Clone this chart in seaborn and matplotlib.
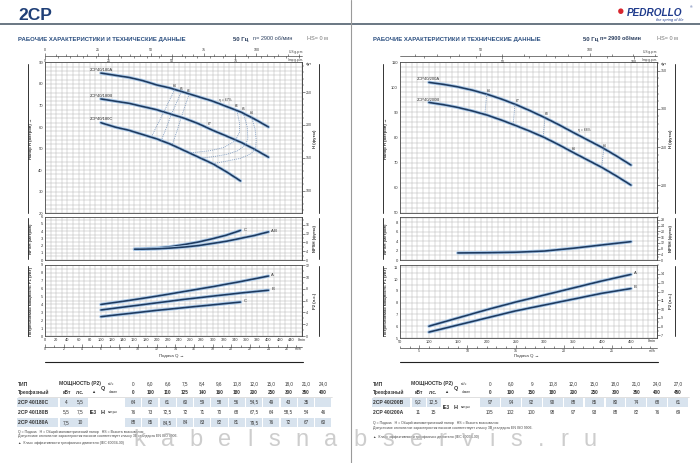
import matplotlib
matplotlib.use('Agg')
import matplotlib.pyplot as plt
import matplotlib.patheffects as pe
from matplotlib.patches import Rectangle
from matplotlib.ticker import MultipleLocator, FixedLocator
import seaborn as sns

sns.set_theme(style='white')
plt.rcParams['font.family'] = ['Liberation Sans', 'DejaVu Sans']

W, H = 700, 463
NAVY = '#1e3a5f'
GLOW = '#a9c8e8'
GRID = '#b4b4b4'
TXT = '#333333'
SHADE = '#d8e3ee'

# ---------------- 2CP 40/180 (left page) ----------------
q180 = [100, 125, 150, 175, 200, 225, 250, 275, 300, 325, 350, 375, 400]
h180_a = [85, 84, 83, 81.5, 79.5, 78, 76, 74, 72, 69.5, 67, 63.7, 60]
h180_b = [73, 72, 71, 69.5, 68, 66, 64, 61.5, 58.5, 55.8, 53, 49.7, 46]
q180_c = [100, 125, 150, 175, 200, 225, 250, 275, 300, 325, 350]
h180_c = [62, 60, 58.5, 56.5, 54.5, 52, 49, 46, 43, 39.2, 35]

qn180_c = [160, 175, 200, 225, 250, 275, 300, 325, 350]
npsh180_c = [1.5, 1.55, 1.65, 1.85, 2.15, 2.5, 2.95, 3.45, 4.1]
qn180_ab = [160, 175, 200, 225, 250, 275, 300, 325, 350, 375, 400]
npsh180_ab = [1.5, 1.5, 1.55, 1.65, 1.8, 2.0, 2.3, 2.6, 3.0, 3.4, 3.9]

qp180 = [100, 150, 200, 250, 300, 350, 400]
p180_a = [4.0, 4.5, 5.05, 5.65, 6.25, 6.9, 7.6]
p180_b = [3.3, 3.75, 4.2, 4.65, 5.05, 5.45, 5.8]
qp180_c = [100, 150, 200, 250, 300, 350]
p180_c = [2.45, 2.85, 3.25, 3.6, 3.95, 4.3]

# efficiency iso-lines (dotted)
eta64_l_q = [232, 222, 212, 201, 191]
eta64_l_h = [77.3, 72, 66.6, 61, 55.7]
eta65_l_q = [244, 235, 226, 217, 208]
eta65_l_h = [76.3, 71, 65.8, 59.5, 53.7]
eta66_l_q = [258, 251, 244, 236, 228]
eta66_l_h = [75.2, 70, 64.5, 58, 52]
eta64_r_q = [370, 376, 378, 377, 368, 350, 325, 300]
eta64_r_h = [64.4, 59, 54, 50, 47.5, 45.5, 44.2, 43]
eta65_r_q = [356, 362, 363, 360, 345, 325, 300, 279]
eta65_r_h = [65.6, 60, 55, 52, 49, 47.3, 46.2, 45.6]
eta66_r_q = [343, 348, 348, 340, 320, 295, 259]
eta66_r_h = [68.3, 62, 57.5, 53.5, 50.5, 49, 48]

# ---------------- 2CP 40/200 (right page) ----------------
q200 = [100, 125, 150, 175, 200, 225, 250, 275, 300, 325, 350, 375, 400, 425, 450]
h200_a = [102, 101.2, 100.2, 98.9, 97.3, 95.4, 93.2, 90.7, 88, 85.1, 82, 79, 76, 72.6, 69]
h200_b = [94, 93.1, 92, 90.6, 89, 87, 84.8, 82.5, 80, 77.1, 74, 71, 68, 64.6, 61]

qn200 = [150, 200, 250, 300, 325, 350, 375, 400, 425, 450]
npsh200 = [1.5, 1.55, 1.65, 1.9, 2.2, 2.5, 2.85, 3.2, 3.55, 3.9]

qp200 = [100, 150, 200, 250, 300, 350, 400, 450]
p200_a = [6.0, 6.7, 7.4, 8.05, 8.65, 9.25, 9.85, 10.4]
p200_b = [5.5, 6.1, 6.7, 7.3, 7.8, 8.3, 8.8, 9.2]

seg200_q = [[200, 197], [249, 246], [301, 298], [403, 399]]
seg200_h = [[97.3, 89.2], [93.3, 85.1], [87.9, 80.2], [75.6, 68.1]]

# ---------------- tables ----------------
t180_m3h = ['0', '6,0', '6,6', '7,5', '8,4', '9,6', '10,8', '12,0', '15,0', '18,0', '21,0', '24,0']
t180_lmin = ['0', '100', '110', '125', '140', '160', '180', '200', '250', '300', '350', '400']
t180_models = ['2CP 40/180C', '2CP 40/180B', '2CP 40/180A']
t180_kw = ['4', '5,5', '7,5']
t180_hp = ['5,5', '7,5', '10']
t180_h = [['64', '62', '61', '60', '59', '58', '56', '54,5', '49', '43', '35', ''],
          ['76', '73', '72,5', '72', '71', '70', '68', '67,5', '64', '58,5', '54', '46'],
          ['88', '85', '84,5', '84', '83', '82', '81', '79,5', '76', '72', '67', '60']]

t200_m3h = ['0', '6,0', '9', '10,8', '12,0', '15,0', '18,0', '21,0', '24,0', '27,0']
t200_lmin = ['0', '100', '150', '180', '200', '250', '300', '350', '400', '450']
t200_models = ['2CP 40/200B', '2CP 40/200A']
t200_kw = ['9,2', '11']
t200_hp = ['12,5', '15']
t200_h = [['97', '94', '92', '90', '88', '85', '80', '74', '68', '61'],
          ['105', '102', '100', '98', '97', '93', '88', '82', '76', '69']]

notes = ['Q = Подача   H = Общий манометрический напор   HS = Высота всасывания',
         'Допустимое отклонение характеристик насосов соответствует классу 3B стандарта EN ISO 9906.',
         '▲  Класс эффективности трехфазного двигателя (IEC 60034-30)']

fig = plt.figure(figsize=(W / 100, H / 100), dpi=100)
ov = fig.add_axes([0, 0, 1, 1])
ov.set_xlim(0, W)
ov.set_ylim(H, 0)
ov.axis('off')


def rect(x0, y0, x1, y1):
    return [x0 / W, 1 - y1 / H, (x1 - x0) / W, (y1 - y0) / H]


def panel(x0, x1, y0, y1, xlim, ylim, xmajor, yticks, yminor):
    ax = fig.add_axes(rect(x0, y0, x1, y1))
    ax.set_xlim(*xlim)
    ax.set_ylim(*ylim)
    ax.xaxis.set_major_locator(MultipleLocator(xmajor))
    ax.xaxis.set_minor_locator(MultipleLocator(10))
    ax.set_yticks(yticks)
    ax.yaxis.set_minor_locator(MultipleLocator(yminor))
    ax.grid(True, which='both', color=GRID, lw=0.35)
    ax.set_axisbelow(True)
    for s in ax.spines.values():
        s.set_color('#4a4a4a')
        s.set_linewidth(0.6)
    ax.tick_params(which='both', length=0, pad=1.5, labelsize=3, colors=TXT, labelbottom=False)
    return ax


def right_scale(ax, k, ticks, minor):
    sec = ax.secondary_yaxis('right', functions=(lambda v, k=k: v * k, lambda v, k=k: v / k))
    sec.set_yticks(ticks)
    sec.yaxis.set_minor_locator(MultipleLocator(minor))
    sec.tick_params(which='major', length=2, width=0.4, pad=0.8, labelsize=2.6, colors=TXT)
    sec.tick_params(which='minor', length=1.2, width=0.3)
    sec.spines['right'].set_linewidth(0.6)
    sec.spines['right'].set_color('#4a4a4a')
    return sec


def curve(ax, x, y):
    sns.lineplot(x=x, y=y, ax=ax, color=NAVY, lw=1.15, estimator=None,
                 path_effects=[pe.withStroke(linewidth=2.4, foreground=GLOW)])
    ax.set_xlabel('')
    ax.set_ylabel('')


def dotted(ax, x, y):
    sns.lineplot(x=x, y=y, ax=ax, color='#6f8fb8', lw=0.6, ls=(0, (1, 1.3)),
                 sort=False, estimator=None)
    ax.set_xlabel('')
    ax.set_ylabel('')


def ruler(x0, x1, y, lim, ticks, minor, side, labels=True):
    r = fig.add_axes(rect(x0, y, x1, y + 0.01))
    r.set_xlim(*lim)
    r.set_yticks([])
    r.patch.set_alpha(0)
    for s in r.spines.values():
        s.set_visible(False)
    r.xaxis.set_major_locator(FixedLocator(ticks))
    r.xaxis.set_minor_locator(MultipleLocator(minor))
    top = side == 'top'
    r.tick_params(axis='x', which='both', top=top, bottom=not top, labeltop=top and labels,
                  labelbottom=(not top) and labels, direction='out' if side != 'up' else 'in',
                  colors=TXT, labelsize=2.6, pad=0.6, width=0.4)
    r.tick_params(which='major', length=2)
    r.tick_params(which='minor', length=1.2)
    return r


def small(x, y, s, size=2.4, **kw):
    ov.text(x, y, s, fontsize=size, color=TXT, **kw)


# ---------------- page header ----------------
ov.text(18, 15, '2CP', fontsize=12.5, fontweight='bold', color='#1f3f77', va='center')
ov.plot([0, W], [24, 24], color='#50606e', lw=1.2)
ov.plot([351, 351], [0, H], color='#9a9a9a', lw=0.8)
for x0, xg, xn, xh, nb in [(18, 233, 253, 307, 'normal'), (373, 583, 600, 657, 'bold')]:
    ov.text(x0, 39, 'РАБОЧИЕ ХАРАКТЕРИСТИКИ И ТЕХНИЧЕСКИЕ ДАННЫЕ', fontsize=4.3,
            fontweight='bold', color='#2b4f80', va='center')
    ov.text(xg, 39, '50 Гц', fontsize=4.3, fontweight='bold', color='#2b3f5f', va='center')
    ov.text(xn, 39, 'n= 2900 об/мин', fontsize=4, fontweight=nb, color='#2b3f5f', va='center')
    ov.text(xh, 39, 'HS= 0 м', fontsize=4, color='#777777', va='center')
ov.text(621, 12.5, '●', fontsize=9, color='#d8262e', ha='center', va='center')
ov.text(627, 12.5, 'PEDROLLO', fontsize=7.2, fontweight='bold', fontstyle='italic',
        color='#1f3b8c', va='center')
ov.text(689.5, 7.5, '®', fontsize=2.5, color='#1f3b8c', va='center')
ov.text(684, 20.5, 'the spring of life', fontsize=2.8, fontstyle='italic', color='#1f3b8c',
        ha='right', va='center')

# ---------------- left charts ----------------
axh = panel(45, 302, 62.3, 213.3, (0, 460), (20, 90), 20, range(20, 91, 10), 2)
curve(axh, q180, h180_a)
curve(axh, q180, h180_b)
curve(axh, q180_c, h180_c)
for qq, hh in [(eta64_l_q, eta64_l_h), (eta65_l_q, eta65_l_h), (eta66_l_q, eta66_l_h),
               (eta64_r_q, eta64_r_h), (eta65_r_q, eta65_r_h), (eta66_r_q, eta66_r_h)]:
    dotted(axh, qq, hh)
for lbl, q, h in [('64', 232, 78.9), ('65', 244, 77.7), ('66', 258, 76.6),
                  ('66', 343, 69.6), ('65', 356, 68.3), ('64', 370, 66.6), ('67', 295, 61.2)]:
    axh.text(q, h, lbl, fontsize=2.4, color=TXT, ha='center', va='center')
axh.text(312, 72.6, 'η = 67%', fontsize=2.4, color=TXT, ha='left', va='center')
axh.text(80, 86.4, '2CP40/180A', fontsize=3, color=TXT, va='center')
axh.text(80, 74.6, '2CP40/180B', fontsize=3, color=TXT, va='center')
axh.text(80, 63.7, '2CP40/180C', fontsize=3, color=TXT, va='center')
right_scale(axh, 3.2808, [100, 150, 200, 250], 10)
small(306, 64.5, 'фут')

axn = panel(45, 302, 216.7, 260, (0, 460), (0, 6), 20, range(0, 7), 0.5)
curve(axn, qn180_c, npsh180_c)
curve(axn, qn180_ab, npsh180_ab)
axn.text(355, 4.2, 'C', fontsize=3, color=TXT, va='center')
axn.text(405, 4.05, 'A-B', fontsize=3, color=TXT, va='center')
right_scale(axn, 3.2808, [0, 4, 8, 12, 16], 2)

axp = panel(45, 302, 265, 336, (0, 460), (0, 9), 20, range(0, 10), 0.5)
curve(axp, qp180, p180_a)
curve(axp, qp180, p180_b)
curve(axp, qp180_c, p180_c)
axp.text(405, 7.75, 'A', fontsize=3, color=TXT, va='center')
axp.text(405, 5.9, 'B', fontsize=3, color=TXT, va='center')
axp.text(355, 4.4, 'C', fontsize=3, color=TXT, va='center')
right_scale(axp, 1.341, range(0, 13, 2), 1)
axp.set_xticks(range(0, 461, 20))
axp.set_xticklabels([str(v) for v in range(0, 441, 20)] + ['l/min'])
axp.tick_params(labelbottom=True, labelsize=2.8, pad=1.2)

# rulers (left)
ov.plot([45, 302], [55.5, 55.5], color='#444', lw=0.5)
ruler(45, 302, 55.5, (0, 460 / 3.785), [0, 25, 50, 75, 100], 5, 'top')
ruler(45, 302, 55.5, (0, 460 / 4.546), [0, 25, 50, 75], 5, 'bottom')
small(296, 51.5, 'US g.p.m.', 2.3, ha='center', va='center')
small(296, 59.5, 'Imp g.p.m.', 2.3, ha='center', va='center')
ov.plot([45, 302], [346.5, 346.5], color='#444', lw=0.5)
ruler(45, 302, 346.5, (0, 460 / 16.667), list(range(0, 27, 2)), 1, 'up')
small(298, 349.5, 'm³/h', 2.4, ha='center', va='center')
ov.text(172, 355.5, 'Подача Q →', fontsize=3.2, color=TXT, ha='center', va='center')
ov.plot([45, 303], [361.7, 361.7], color='#222', lw=0.8)

# ---------------- right charts ----------------
bxh = panel(400, 657, 62.3, 212.7, (50, 495), (50, 110), 50, range(50, 111, 10), 2)
curve(bxh, q200, h200_a)
curve(bxh, q200, h200_b)
for qq, hh in zip(seg200_q, seg200_h):
    dotted(bxh, qq, hh)
for lbl, q, h in [('64', 204, 98.6), ('67', 254, 94.7), ('68', 304, 89.4), ('64', 405, 76.8),
                  ('64', 351, 75.4)]:
    bxh.text(q, h, lbl, fontsize=2.4, color=TXT, ha='center', va='center')
bxh.text(359, 83, 'η = 68%', fontsize=2.4, color=TXT, ha='left', va='center')
bxh.text(79, 103.2, '2CP40/200A', fontsize=3, color=TXT, va='center')
bxh.text(79, 95.0, '2CP40/200B', fontsize=3, color=TXT, va='center')
right_scale(bxh, 3.2808, [200, 250, 300, 350], 10)
small(661, 65, 'фут')

bxn = panel(400, 657, 216.7, 260, (50, 495), (0, 9.2), 50, [0, 2, 4, 6, 8], 1)
curve(bxn, qn200, npsh200)
right_scale(bxn, 3.2808, range(0, 29, 4), 2)

bxp = panel(400, 657, 265, 338, (50, 495), (5, 11.2), 50, range(5, 12), 0.5)
curve(bxp, qp200, p200_a)
curve(bxp, qp200, p200_b)
bxp.text(455, 10.5, 'A', fontsize=3, color=TXT, va='center')
bxp.text(455, 9.3, 'B', fontsize=3, color=TXT, va='center')
right_scale(bxp, 1.341, range(7, 15), 0.5)
bxp.set_xticks(range(50, 451, 50))
bxp.tick_params(labelbottom=True, labelsize=2.8, pad=1.2)
small(652, 341.5, 'l/min', 2.8, ha='center', va='center')

ov.plot([400, 657], [56, 56], color='#444', lw=0.5)
ruler(400, 657, 56, (50 / 3.785, 495 / 3.785), [50, 100], 10, 'top')
ruler(400, 657, 56, (50 / 4.546, 495 / 4.546), [50, 100], 10, 'bottom')
small(650, 52.5, 'US g.p.m.', 2.3, ha='center', va='center')
small(650, 59.5, 'Imp g.p.m.', 2.3, ha='center', va='center')
ov.plot([400, 657], [348, 348], color='#444', lw=0.5)
ruler(400, 657, 348, (50 / 16.667, 495 / 16.667), [5, 10, 15, 20, 25], 1, 'up')
small(652, 351, 'm³/h', 2.4, ha='center', va='center')
ov.text(527, 356, 'Подача Q →', fontsize=3.2, color=TXT, ha='center', va='center')
ov.plot([400, 658], [362, 362], color='#222', lw=0.8)

# axis titles and brackets
for xl, xb, xr, xrb in [(31, 28.3, 315, 319.3), (386.5, 383.3, 671, 675)]:
    for (ya, yb), left, right in [((64, 213), 'Напор H (метров) →', 'H (футы)'),
                                  ((218, 259), 'NPSH (метров)', 'NPSH (футы)'),
                                  ((266, 336), 'Потребляемая мощность P1 (кВт)', 'P2 (л.с.)')]:
        ov.plot([xb, xb], [ya, yb], color='#333', lw=0.7)
        ov.plot([xrb, xrb], [ya, yb], color='#333', lw=0.7)
        ov.text(xl, (ya + yb) / 2, left, rotation=90, fontsize=3, fontweight='bold',
                color=TXT, ha='center', va='center')
        ov.text(xr, (ya + yb) / 2, right, rotation=90, fontsize=3, fontweight='bold',
                color=TXT, ha='center', va='center')


# ---------------- tables ----------------
def table(x0, cols, vx, vw, m3h, lmin, models, kw, hp, vals, shaded, note_y):
    xn_end, xkw, xhp, xie, xq = cols
    y_h1, y_h2 = 384, 392.3
    ov.text(x0, y_h1, 'ТИП', fontsize=3.6, fontweight='bold', color=TXT, va='center')
    ov.text(x0, y_h2, 'Трехфазный', fontsize=3.6, fontweight='bold', color=TXT, va='center')
    ov.text((xkw + xie) / 2, y_h1, 'МОЩНОСТЬ (P2)', fontsize=3.6, fontweight='bold',
            color=TXT, ha='center', va='center')
    ov.text(xkw, y_h2, 'кВт', fontsize=3.4, fontweight='bold', color=TXT, ha='center', va='center')
    ov.text(xhp, y_h2, 'л.с.', fontsize=3.4, fontweight='bold', color=TXT, ha='center', va='center')
    ov.text(xie, y_h2, '▲', fontsize=3, color=TXT, ha='center', va='center')
    ov.text(xq, (y_h1 + y_h2) / 2, 'Q', fontsize=4, fontweight='bold', color=TXT, va='center')
    ov.text(xq + 7, y_h1, 'м³/ч', fontsize=2.4, color=TXT, va='center')
    ov.text(xq + 7, y_h2, 'л/мин', fontsize=2.4, color=TXT, va='center')
    for i, (a, b) in enumerate(zip(m3h, lmin)):
        ov.text(vx + i * vw, y_h1, a, fontsize=3.3, color=TXT, ha='center', va='center')
        ov.text(vx + i * vw, y_h2, b, fontsize=3.3, fontweight='bold', color=TXT,
                ha='center', va='center')
    ov.plot([x0, vx + (len(m3h) - 0.5) * vw], [396.5, 396.5], color='#c8c8c8', lw=0.4)
    rows_y = [402 + 10.2 * r for r in range(len(models))]
    for r, yc in enumerate(rows_y):
        if r in shaded:
            for a, b in [(x0 - 1, xn_end), (xkw - 7, xkw + 7), (xhp - 7, xhp + 7)]:
                ov.add_patch(Rectangle((a, yc - 4.5), b - a, 9, color=SHADE, lw=0))
            for i in range(len(m3h)):
                ov.add_patch(Rectangle((vx + i * vw - vw / 2 + 0.6, yc - 4.5), vw - 1.2, 9,
                                       color=SHADE, lw=0))
        ov.text(x0, yc, models[r], fontsize=3.6, fontweight='bold', color=TXT, va='center')
        ov.text(xkw, yc, kw[r], fontsize=3.4, color=TXT, ha='center', va='center')
        ov.text(xhp, yc, hp[r], fontsize=3.4, color=TXT, ha='center', va='center')
        for i, v in enumerate(vals[r]):
            ov.text(vx + i * vw, yc, v, fontsize=3.3, color=TXT, ha='center', va='center')
    ym = (rows_y[0] + rows_y[-1]) / 2
    ov.text(xie, ym, 'IE3', fontsize=3.4, fontweight='bold', color=TXT, ha='center', va='center')
    ov.text(xq, ym, 'H', fontsize=4, fontweight='bold', color=TXT, va='center')
    ov.text(xq + 7, ym, 'метры', fontsize=2.4, color=TXT, va='center')
    for k, (dy, s) in enumerate(zip(note_y, notes)):
        ov.text(x0, dy, s, fontsize=2.5, color='#444', va='center')


table(18, (58, 66.5, 80.5, 93.5, 101), 133, 17.3, t180_m3h, t180_lmin, t180_models,
      t180_kw, t180_hp, t180_h, [0, 2], [431.7, 436, 443.3])
table(373, (410, 418.5, 433.5, 446, 454), 490, 20.9, t200_m3h, t200_lmin, t200_models,
      t200_kw, t200_hp, t200_h, [0], [423.3, 427.7, 436.7])

# watermark
WM = 'kabelsnabservis.ru'
rend = fig.canvas.get_renderer()
wm = [ov.text(0, 446, ch, fontsize=17, color='#bdbdbd', alpha=0.75, va='baseline',
              zorder=10) for ch in WM]
widths = [t.get_window_extent(rend).width for t in wm]
gap = (464 - sum(widths)) / (len(WM) - 1)
x = 133
for t, w in zip(wm, widths):
    t.set_x(x)
    x += w + gap

fig.savefig('out.png', dpi=100)
